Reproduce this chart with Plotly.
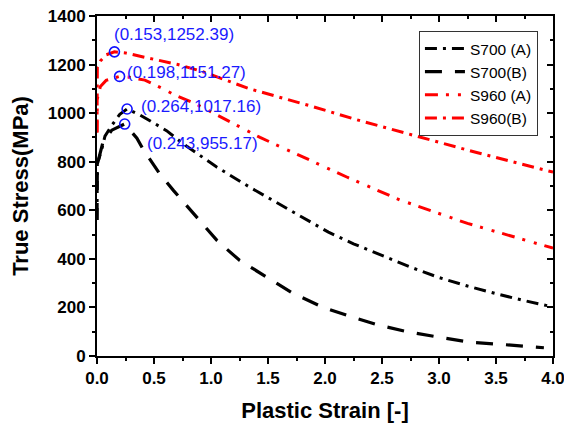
import plotly.graph_objects as go

# ---------------- data ----------------
s700a_x = [0, 0.003, 0.04, 0.07, 0.13, 0.2, 0.264, 0.377, 0.46, 0.61, 0.75, 1.05, 1.34, 1.6,
           2.03, 2.25, 2.5, 2.75, 3.0, 3.25, 3.49, 3.74, 4.0]
s700a_y = [560, 790, 848, 905, 950, 995, 1017.16, 992, 970, 928, 876, 778, 695, 625,
           510, 462, 415, 366, 323, 288, 258, 229, 202]

s700b_x = [0, 0.003, 0.05, 0.13, 0.243, 0.35, 0.4, 0.49, 0.55, 0.67, 0.84, 1.05, 1.25, 1.49,
           1.72, 1.98, 2.24, 2.48, 2.74, 3.01, 3.27, 3.54, 3.82, 3.92]
s700b_y = [560, 790, 876, 930, 955.17, 897, 855, 793, 750, 682, 591, 477, 394, 324,
           258, 201, 160, 126, 98, 77, 57, 48, 36, 34]

s960a_x = [0, 0.003, 0.03, 0.08, 0.198, 0.27, 0.42, 0.57, 0.68, 0.83, 0.92, 1.43, 1.87,
           2.2, 2.66, 3.25, 4.0]
s960a_y = [920, 1060, 1110, 1135, 1151.27, 1149, 1136, 1103, 1075, 1046, 1025, 900, 806,
           735, 642, 546, 444]

s960b_x = [0, 0.003, 0.03, 0.08, 0.153, 0.25, 0.42, 0.71, 0.92, 1.34, 1.87, 2.3, 2.75,
           3.33, 4.0]
s960b_y = [920, 1190, 1215, 1240, 1252.39, 1248, 1230, 1200, 1172, 1100, 1030, 970, 912,
           838, 757]

peak_x = [0.153, 0.198, 0.264, 0.243]
peak_y = [1252.39, 1151.27, 1017.16, 955.17]
peak_labels = ["(0.153,1252.39)", "(0.198,1151.27)", "(0.264,1017.16)", "(0.243,955.17)"]
label_dx = [-2, 5, 12, 20]
label_dy = [17, 4, 2, -19]

x_ticks = [0.0, 0.5, 1.0, 1.5, 2.0, 2.5, 3.0, 3.5, 4.0]
y_ticks = [0, 200, 400, 600, 800, 1000, 1200, 1400]

FONT = "Liberation Sans, Arial, sans-serif"

fig = go.Figure()

fig.add_trace(go.Scatter(x=s700a_x, y=s700a_y, mode="lines", name="S700 (A)",
                         line=dict(color="black", width=3, dash="12px,6px,3px,6px")))
fig.add_trace(go.Scatter(x=s700b_x, y=s700b_y, mode="lines", name="S700(B)",
                         line=dict(color="black", width=3.2, dash="17px,13px")))
fig.add_trace(go.Scatter(x=s960a_x, y=s960a_y, mode="lines", name="S960 (A)",
                         line=dict(color="red", width=3, dash="13px,8px,3px,9px,3px,8px")))
fig.add_trace(go.Scatter(x=s960b_x, y=s960b_y, mode="lines", name="S960(B)",
                         line=dict(color="red", width=3, dash="12px,6px,3px,6px")))

fig.add_trace(go.Scatter(x=peak_x, y=peak_y, mode="markers", showlegend=False,
                         marker=dict(symbol="circle-open", size=10, color="#1010ff",
                                     line=dict(width=1.6, color="#1010ff"))))

# dummy trace for mirrored (inside-tick) axes
fig.add_trace(go.Scatter(x=[None], y=[None], xaxis="x2", yaxis="y2", showlegend=False,
                         hoverinfo="skip"))

for px, py, txt, dx, dy in zip(peak_x, peak_y, peak_labels, label_dx, label_dy):
    fig.add_annotation(x=px, y=py, text=txt, showarrow=False, xanchor="left",
                       yanchor="middle", xshift=dx, yshift=dy,
                       font=dict(family=FONT, size=17, color="#1a1aff"))

axis_common = dict(showgrid=False, zeroline=False, showline=True, linecolor="black",
                   linewidth=2, ticklen=6, tickwidth=1.5, tickcolor="black",
                   automargin=False)

fig.update_layout(
    width=564, height=423,
    margin=dict(l=97, r=11, t=16, b=67),
    plot_bgcolor="white", paper_bgcolor="white",
    font=dict(family=FONT, color="black"),
    xaxis=dict(range=[0, 4.0], tickvals=x_ticks, ticktext=[f"{v:.1f}" for v in x_ticks],
               ticks="outside", ticklabeloverflow="allow",
               minor=dict(dtick=0.25, ticks="outside", ticklen=3, tickwidth=1.5, tickcolor="black"),
               tickfont=dict(family=FONT, size=17, weight="bold"),
               title=dict(text="Plastic Strain [-]", font=dict(family=FONT, size=22, weight="bold"),
                          standoff=15),
               **axis_common),
    yaxis=dict(range=[0, 1400], tickvals=y_ticks, ticks="outside",
               minor=dict(dtick=100, ticks="outside", ticklen=3, tickwidth=1.5, tickcolor="black"),
               tickfont=dict(family=FONT, size=17, weight="bold"),
               title=dict(text="True Stress(MPa)", font=dict(family=FONT, size=22, weight="bold"),
                          standoff=13),
               **axis_common),
    xaxis2=dict(range=[0, 4.0], overlaying="x", side="top", anchor="y2", tickvals=x_ticks,
                ticks="inside", showticklabels=False,
                minor=dict(dtick=0.25, ticks="inside", ticklen=3, tickwidth=1.5, tickcolor="black"),
                **axis_common),
    yaxis2=dict(range=[0, 1400], overlaying="y", side="right", anchor="x2", tickvals=y_ticks,
                ticks="inside", showticklabels=False,
                minor=dict(dtick=100, ticks="inside", ticklen=3, tickwidth=1.5, tickcolor="black"),
                **axis_common),
    legend=dict(x=0.706, y=0.956, xanchor="left", yanchor="top",
                bgcolor="white", bordercolor="#333", borderwidth=1,
                font=dict(family=FONT, size=15.5, color="black"),
                tracegroupgap=0, itemwidth=40),
    showlegend=True,
)

fig.write_html("out.html")
